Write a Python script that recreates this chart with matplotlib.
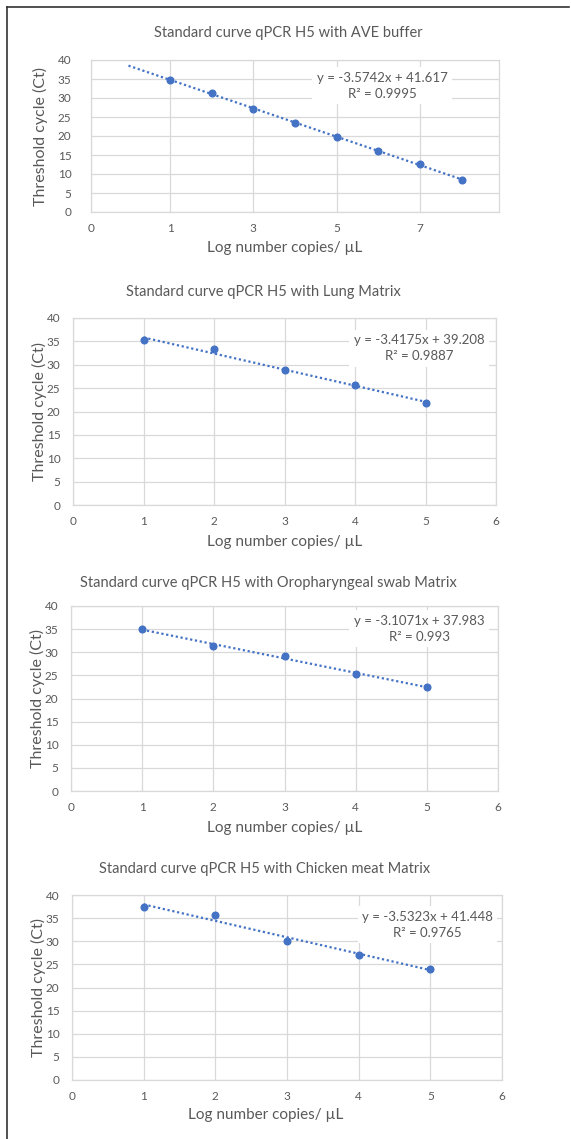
import numpy as np
import matplotlib
matplotlib.use('Agg')
import matplotlib.pyplot as plt

plt.rcParams['font.family'] = ['Lato', 'DejaVu Sans']

# data
titles = ['Standard curve qPCR H5 with AVE buffer',
          'Standard curve qPCR H5 with Lung Matrix',
          'Standard curve qPCR H5 with Oropharyngeal swab Matrix',
          'Standard curve qPCR H5 with Chicken meat Matrix']

x_ave = [1, 2, 3, 4, 5, 6, 7, 8]
ct_ave = [34.7, 31.3, 27.2, 23.4, 19.8, 16.0, 12.6, 8.5]

x_lung = [1, 2, 3, 4, 5]
ct_lung = [35.2, 33.3, 28.8, 25.7, 21.8]

x_oro = [1, 2, 3, 4, 5]
ct_oro = [35.0, 31.3, 29.2, 25.4, 22.4]

x_chk = [1, 2, 3, 4, 5]
ct_chk = [37.5, 35.7, 30.0, 27.0, 24.1]

equations = ['y = -3.5742x + 41.617\nR² = 0.9995',
             'y = -3.4175x + 39.208\nR² = 0.9887',
             'y = -3.1071x + 37.983\nR² = 0.993',
             'y = -3.5323x + 41.448\nR² = 0.9765']

W, H = 571, 1139
grey = '#595959'
blue = '#4472C4'
grid = '#D9D9D9'

fig = plt.figure(figsize=(W / 100, H / 100), dpi=100)

# border lines of the screenshot (top and left)
fig.add_artist(plt.Line2D([7 / W, 7 / W], [0, 1 - 7 / H], color='#333333', lw=1.2))
fig.add_artist(plt.Line2D([7 / W, 569 / W], [1 - 7 / H, 1 - 7 / H], color='#333333', lw=1.2))


def pix_axes(l, t, r, b):
    return fig.add_axes([l / W, 1 - b / H, (r - l) / W, (b - t) / H])


# pixel boxes: left, top, right, bottom
boxes = [(91, 60, 499, 212), (73, 318, 496, 505), (71, 606, 498, 791), (72, 895, 502, 1080)]
title_pos = [(288, 33), (263, 292), (268, 583), (265, 869)]
xlabel_pos = [(285, 248), (285, 542), (285, 828), (266, 1115)]
ylabel_x = [40, 39, 37, 38]
eq_pos = [(0.713, 0.832), (0.818, 0.837), (0.815, 0.878), (0.826, 0.84)]
ypads = [14, 9, 9, 9]

xs = [x_ave, x_lung, x_oro, x_chk]
cts = [ct_ave, ct_lung, ct_oro, ct_chk]

for i in range(4):
    ax = pix_axes(*boxes[i])
    x = np.array(xs[i])
    y = np.array(cts[i])

    # linear trendline
    m, c = np.polyfit(x, y, 1)
    if i == 0:
        xt = np.array([0, x.max()])
    else:
        xt = np.array([x.min(), x.max()])
    ax.plot(xt, m * xt + c, linestyle=(0, (1, 1.2)), color=blue, lw=1.6, zorder=3)
    ax.plot(x, y, 'o', color=blue, markersize=4.8, zorder=4)

    ax.set_ylim(0, 40)
    ax.set_yticks(np.arange(0, 41, 5))
    if i == 0:
        ax.set_xlim(-0.9, 8.9)
        ax.set_xticks([-0.9, 1, 3, 5, 7])
        ax.set_xticklabels(['0', '1', '3', '5', '7'])
    else:
        ax.set_xlim(0, 6)
        ax.set_xticks(np.arange(0, 7, 1))

    ax.grid(True, color=grid, lw=0.9)
    ax.set_axisbelow(True)
    for s in ax.spines.values():
        s.set_color(grid)
        s.set_linewidth(0.9)
    ax.tick_params(length=0, labelsize=8.5, colors=grey)
    ax.tick_params(axis='y', pad=ypads[i])
    ax.tick_params(axis='x', pad=8)

    ax.text(eq_pos[i][0], eq_pos[i][1], equations[i], transform=ax.transAxes,
            ha='center', va='center', fontsize=9.5, color=grey, linespacing=1.4,
            bbox=dict(facecolor='white', edgecolor='none', pad=3), zorder=5)

    fig.text(title_pos[i][0] / W, 1 - title_pos[i][1] / H, titles[i],
             ha='center', va='center', fontsize=10.5, color=grey)
    fig.text(xlabel_pos[i][0] / W, 1 - xlabel_pos[i][1] / H, 'Log number copies/ µL',
             ha='center', va='center', fontsize=11, color=grey)
    yc = (boxes[i][1] + boxes[i][3]) / 2
    fig.text(ylabel_x[i] / W, 1 - yc / H, 'Threshold cycle (Ct)',
             ha='center', va='center', rotation=90, fontsize=11.5, color=grey)

fig.savefig('out.png', dpi=100, facecolor='white')
